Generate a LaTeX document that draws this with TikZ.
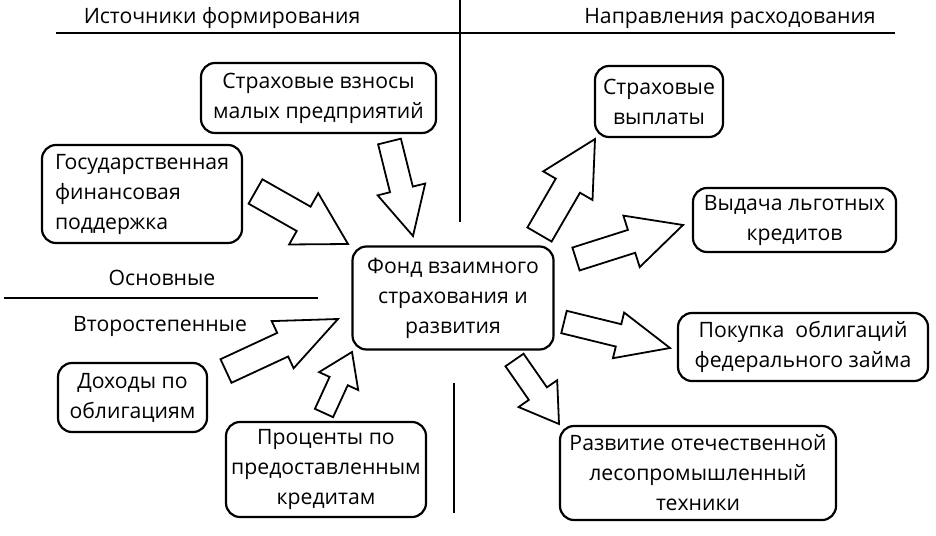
\documentclass[tikz,border=0pt]{standalone}
\usepackage{fontspec}
\setmainfont{Open Sans}
\usetikzlibrary{calc}

\tikzset{
  box/.style={draw, line width=2.2pt, rounded corners=14pt, align=center, inner sep=2pt},
  blockarr/.style={draw, line width=1.8pt, fill=white, line join=miter},
  rule/.style={line width=2pt},
  caption/.style={anchor=base, inner sep=0pt},
}

% block arrow: tail, tip, half shaft, half head, head length
\newcommand{\blockarrow}[5]{%
  \coordinate (ta) at (#1);
  \coordinate (tb) at (#2);
  \coordinate (hb) at ($(tb)!#5!(ta)$);
  \draw[blockarr] ($(ta)!#3!90:(tb)$) -- ($(hb)!#3!90:(tb)$) -- ($(hb)!#4!90:(tb)$)
    -- (tb) -- ($(hb)!#4!-90:(tb)$) -- ($(hb)!#3!-90:(tb)$) -- ($(ta)!#3!-90:(tb)$) -- cycle;
}

\begin{document}
\begin{tikzpicture}[x=1pt, y=-1pt, font=\fontsize{21.2}{30}\selectfont]
  \useasboundingbox (0,0) rectangle (936,535);

  % rules and captions
  \draw[rule] (56,33) -- (895,33);
  \draw[rule] (460,0) -- (460,222);
  \draw[rule] (4,298) -- (318,298);
  \draw[rule] (454,383) -- (454,513);
  \node[caption] (src) at (222,24) {Источники формирования};
  \node[caption] (dir) at (730,24) {Направления расходования};
  \node[caption] (main) at (162,285) {Основные};
  \node[caption] (minor) at (160,331) {Второстепенные};

  % boxes
  \node[box, minimum width=201pt, minimum height=103pt] (fund) at (453,298)
    {Фонд взаимного\\страхования и\\развития};
  \node[box, minimum width=235pt, minimum height=70pt] (fees) at (318.5,98)
    {Страховые взносы\\малых предприятий};
  \node[box, minimum width=200pt, minimum height=98pt, align=left] (gov) at (142,194)
    {Государственная\\финансовая\\поддержка};
  \node[box, minimum width=149pt, minimum height=69pt] (bondinc) at (132.5,397.5)
    {Доходы по\\облигациям};
  \node[box, minimum width=200pt, minimum height=95pt] (interest) at (326,469.5)
    {Проценты по\\предоставленным\\кредитам};
  \node[box, minimum width=128pt, minimum height=71pt] (pay) at (659,101.5)
    {Страховые\\выплаты};
  \node[box, minimum width=203pt, minimum height=64pt] (loans) at (794.5,220)
    {Выдача льготных\\кредитов};
  \node[box, minimum width=250pt, minimum height=68pt] (bonds) at (803,347)
    {Покупка\ \ облигаций\\федерального займа};
  \node[box, minimum width=276pt, minimum height=94pt] (tech) at (698,473)
    {Развитие отечественной\\лесопромышленный\\техники};

  % block arrows
  \blockarrow{255.5,191.5}{348,244}{14pt}{29.5pt}{51pt}
  \blockarrow{389.5,141.5}{413,236}{11.75pt}{24.5pt}{48pt}
  \blockarrow{226,371}{338,319}{13pt}{26pt}{61pt}
  \blockarrow{324,413}{352,352}{10pt}{21.5pt}{32pt}
  \blockarrow{539.5,234.5}{595,139}{14pt}{28.5pt}{54pt}
  \blockarrow{576,259}{683,225}{12pt}{27pt}{54pt}
  \blockarrow{564,322}{670,348}{11.5pt}{23.5pt}{53pt}
  \blockarrow{514.5,360}{559,424}{11pt}{23.5pt}{37pt}
\end{tikzpicture}
\end{document}
